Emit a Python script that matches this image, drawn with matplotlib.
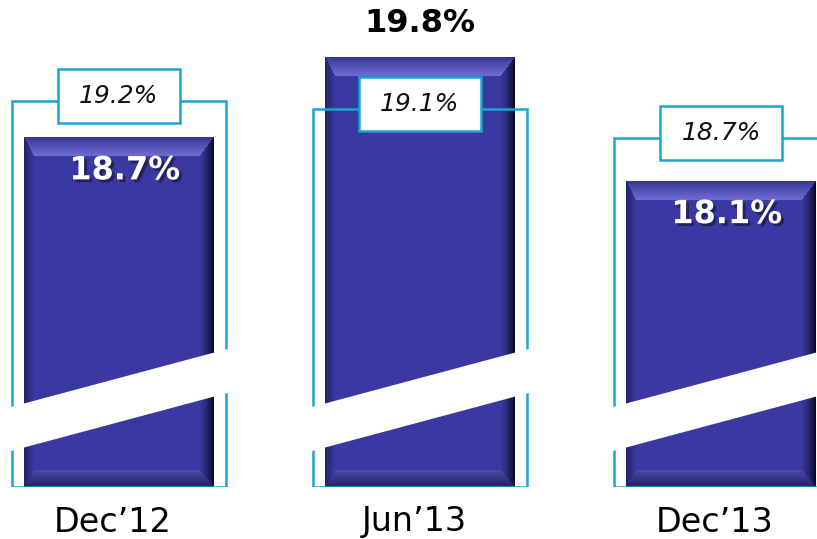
import numpy as np
import matplotlib
matplotlib.use("Agg")
import matplotlib.pyplot as plt
from matplotlib.patches import Rectangle, Polygon
import matplotlib.patheffects as pe

# ---- data ----
categories = ["Dec\u201912", "Jun\u201913", "Dec\u201913"]
bar_values = [18.7, 19.8, 18.1]          # main (bold) values
bracket_values = [19.2, 19.1, 18.7]      # outlined bracket values
axis_floor = 13.92                       # truncated axis start (broken bars)

# ---- style ----
BAR_COLOR = (0.231, 0.227, 0.635)
CYAN = "#1aa3d3"
bar_width = 0.628
bracket_width = 0.711
box_w, box_h = 0.405, 0.74

fig = plt.figure(figsize=(8.17, 5.39), dpi=100)
ax = fig.add_axes([0, 52 / 539, 1, 487 / 539])
ax.set_xlim(-0.395, 2.319)
ax.set_ylim(axis_floor, 20.59)
ax.axis("off")

x = np.arange(len(categories))


def bevel_image(wpx, hpx):
    yy, xx = np.mgrid[0:hpx, 0:wpx].astype(float)
    dt = yy
    db = hpx - 1 - yy
    dl = xx
    dr = wpx - 1 - xx
    bt, bb, bl, br = 19.0, 17.0, 10.0, 14.0
    n = np.stack([dt / bt, db / bb, dl / bl, dr / br])
    idx = np.argmin(n, axis=0)
    nmin = np.min(n, axis=0)
    img = np.zeros((hpx, wpx, 3))
    img[:] = BAR_COLOR
    specs = {
        0: ((0.20, 0.20, 0.58), (0.43, 0.43, 0.83)),   # top: lighter
        1: ((0.13, 0.13, 0.38), (0.30, 0.30, 0.68)),   # bottom: darker
        2: ((0.14, 0.14, 0.42), BAR_COLOR),            # left
        3: ((0.03, 0.03, 0.12), BAR_COLOR),            # right: dark
    }
    for k, (c_edge, c_in) in specs.items():
        m = (idx == k) & (nmin < 1)
        t = np.clip(nmin[m], 0, 1)
        if k == 3:
            t = t ** 0.7
        if k == 0:
            t = t ** 0.8
        c_edge = np.array(c_edge)
        c_in = np.array(c_in)
        img[m] = c_edge[None, :] * (1 - t[:, None]) + c_in[None, :] * t[:, None]
    return img


bars = ax.bar(x, np.array(bar_values) - axis_floor, bottom=axis_floor,
              width=bar_width, color=BAR_COLOR, zorder=2)

# pixel scale
px_per_x = 817 / (2.319 + 0.395)
px_per_v = 487 / (20.59 - axis_floor)

for b in bars:
    x0, y0 = b.get_x(), b.get_y()
    w, h = b.get_width(), b.get_height()
    wpx = int(round(w * px_per_x))
    hpx = int(round(h * px_per_v))
    img = bevel_image(wpx, hpx)
    ax.imshow(img, extent=[x0, x0 + w, y0, y0 + h], aspect="auto",
              zorder=2.5, interpolation="bilinear")

ax.set_xlim(-0.395, 2.319)
ax.set_ylim(axis_floor, 20.59)

# brackets and boxes
for xi, bv in zip(x, bracket_values):
    ax.add_patch(Rectangle((xi - bracket_width / 2, axis_floor), bracket_width,
                           bv - axis_floor, fill=False, edgecolor=CYAN,
                           linewidth=1.8, zorder=3))
    cy = bv + 0.07
    ax.add_patch(Rectangle((xi - box_w / 2, cy - box_h / 2), box_w, box_h,
                           facecolor="white", edgecolor=CYAN, linewidth=1.8,
                           zorder=4))
    ax.text(xi, cy, f"{bv:.1f}%", ha="center", va="center", fontsize=18,
            style="italic", color="#111111", zorder=6)

# white break band
slope = 1.105
for xi in x:
    xl, xr = xi - bracket_width / 2 - 0.03, xi + bracket_width / 2 + 0.03
    up_l = 15.412 + slope * (xl - xi)
    up_r = 15.412 + slope * (xr - xi)
    th = 0.603
    ax.add_patch(Polygon([(xl, up_l), (xr, up_r), (xr, up_r - th), (xl, up_l - th)],
                         closed=True, facecolor="white", edgecolor="none",
                         zorder=5))

# value labels
max_i = int(np.argmax(bar_values))
for i, (xi, v) in enumerate(zip(x, bar_values)):
    if i == max_i:
        ax.text(xi, v + 0.47, f"{v:.1f}%", ha="center", va="center",
                fontsize=23, fontweight="bold", color="black", zorder=6)
    else:
        ax.text(xi + 0.02, v - 0.45, f"{v:.1f}%", ha="center", va="center",
                fontsize=23, fontweight="bold", color="white", zorder=6,
                path_effects=[pe.withSimplePatchShadow(offset=(2, -2),
                                                       shadow_rgbFace="#111133",
                                                       alpha=0.6)])

# category labels
for xi, c in zip(x, categories):
    ax.text(xi - 0.02, axis_floor - 35 / px_per_v, c, ha="center", va="center",
            fontsize=24, color="black", clip_on=False)

fig.savefig("out.png", dpi=100)
